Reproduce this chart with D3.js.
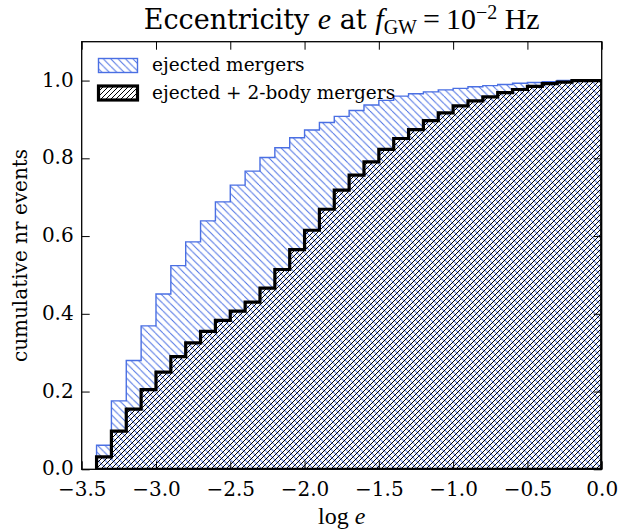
<!DOCTYPE html>
<html><head><meta charset="utf-8">
<script src="https://cdn.jsdelivr.net/npm/d3@7"></script>
<style>
html,body{margin:0;padding:0;background:#fff;}
svg{display:block;}
text{font-family:"DejaVu Serif",serif;fill:#000;}
</style></head>
<body>
<svg id="chart" width="621" height="529"></svg>
<script>
// ---- data ----
const binEdges = [-3.4,-3.3,-3.2,-3.1,-3.0,-2.9,-2.8,-2.7,-2.6,-2.5,-2.4,-2.3,-2.2,-2.1,-2.0,-1.9,-1.8,-1.7,-1.6,-1.5,-1.4,-1.3,-1.2,-1.1,-1.0,-0.9,-0.8,-0.7,-0.6,-0.5,-0.4,-0.3,-0.2,-0.1,0.0];
const ejected = [0.062,0.176,0.280,0.369,0.451,0.524,0.585,0.639,0.688,0.731,0.767,0.802,0.827,0.853,0.873,0.892,0.908,0.923,0.937,0.949,0.960,0.966,0.971,0.976,0.980,0.984,0.987,0.990,0.993,0.995,0.997,1.0,1.0,1.0];
const ejectedPlus2body = [0.032,0.098,0.155,0.205,0.250,0.290,0.325,0.355,0.383,0.407,0.430,0.466,0.514,0.565,0.615,0.669,0.718,0.757,0.791,0.823,0.851,0.874,0.897,0.917,0.935,0.948,0.958,0.969,0.977,0.985,0.992,0.996,1.0,1.0];
const xTicks = [-3.5,-3.0,-2.5,-2.0,-1.5,-1.0,-0.5,0.0];
const yTicks = [0.0,0.2,0.4,0.6,0.8,1.0];
const legendLabels = ["ejected mergers","ejected + 2-body mergers"];

// ---- layout ----
const L = 81.7, R = 601.7, T = 41.7, B = 469.3;
const x = d3.scaleLinear().domain([-3.5, 0.0]).range([L, R]);
const y = d3.scaleLinear().domain([0, 1.1]).range([B, T]);
const blue = "#4a6fe3";

const svg = d3.select("#chart");
const defs = svg.append("defs");

function hatch(id, period, dir, color, sw) {
  const p = defs.append("pattern").attr("id", id)
    .attr("patternUnits", "userSpaceOnUse").attr("width", period).attr("height", period);
  const segs = dir === "/" ?
    [[0, period, period, 0], [-period, period, 0, 0], [period, period * 2, period * 2, period]] :
    [[0, 0, period, period], [-period, 0, 0, period], [period, 0, period * 2, period]];
  segs.forEach(s => p.append("line").attr("x1", s[0]).attr("y1", s[1]).attr("x2", s[2]).attr("y2", s[3])
    .attr("stroke", color).attr("stroke-width", sw));
}
hatch("hBlue", 7.4, "\\", blue, 1.0);
hatch("hBlack", 5.0, "/", "#000", 1.0);

defs.append("clipPath").attr("id", "plotClip").append("rect")
  .attr("x", L).attr("y", T).attr("width", R - L).attr("height", B - T);

function stepPoints(vals) {
  const pts = [[binEdges[0], 0]];
  vals.forEach((v, i) => { pts.push([binEdges[i], v]); pts.push([binEdges[i + 1], v]); });
  pts.push([binEdges[binEdges.length - 1], 0]);
  return pts;
}
const line = d3.line().x(d => x(d[0])).y(d => y(d[1]));

const plot = svg.append("g").attr("clip-path", "url(#plotClip)");
plot.append("path").attr("d", line(stepPoints(ejected)) + "Z")
  .attr("fill", "url(#hBlue)").attr("stroke", blue).attr("stroke-width", 1.4).attr("stroke-linejoin", "miter");
plot.append("path").attr("d", line(stepPoints(ejectedPlus2body)) + "Z")
  .attr("fill", "url(#hBlack)").attr("stroke", "#000").attr("stroke-width", 3.2).attr("stroke-linejoin", "miter");

// ---- axes ----
const tickLen = 8;
const gx = svg.append("g").attr("transform", `translate(0,${B})`)
  .call(d3.axisBottom(x).tickValues(xTicks).tickSize(-tickLen).tickPadding(12)
    .tickFormat(d => d3.format(".1f")(d).replace("-", "\u2212")));
const gxt = svg.append("g").attr("transform", `translate(0,${T})`)
  .call(d3.axisTop(x).tickValues(xTicks).tickSize(-tickLen).tickFormat(""));
const gy = svg.append("g").attr("transform", `translate(${L},0)`)
  .call(d3.axisLeft(y).tickValues(yTicks).tickSize(-tickLen).tickPadding(8).tickFormat(d3.format(".1f")));
const gyr = svg.append("g").attr("transform", `translate(${R},0)`)
  .call(d3.axisRight(y).tickValues(yTicks).tickSize(-tickLen).tickFormat(""));
[gx, gxt, gy, gyr].forEach(g => {
  g.select(".domain").remove();
  g.selectAll(".tick line").attr("stroke", "#000").attr("stroke-width", 1);
  g.selectAll("text").attr("font-family", "DejaVu Serif").attr("font-size", 20).attr("fill", "#000");
});
gx.selectAll("text").attr("dy", "0.72em");
gy.selectAll("text").attr("dy", "0.28em");
svg.append("rect").attr("x", L).attr("y", T).attr("width", R - L).attr("height", B - T)
  .attr("fill", "none").attr("stroke", "#000").attr("stroke-width", 1.3);

// ---- labels ----
const title = svg.append("text").attr("x", (L + R) / 2).attr("y", 29).attr("text-anchor", "middle")
  .attr("font-size", 27);
title.append("tspan").text("Eccentricity ");
title.append("tspan").attr("font-family", "Liberation Serif").attr("font-style", "italic").attr("font-size", 30).text("e");
title.append("tspan").text(" at ");
title.append("tspan").attr("font-family", "Liberation Serif").attr("font-style", "italic").attr("font-size", 30).text("f");
title.append("tspan").attr("font-family", "Liberation Serif").attr("font-size", 20).attr("dy", 5).text("GW");
title.append("tspan").attr("font-family", "Liberation Serif").attr("font-size", 30).attr("dy", -5).text("\u2009=\u200910");
title.append("tspan").attr("font-family", "Liberation Serif").attr("font-size", 20).attr("dy", -10).text("\u22122");
title.append("tspan").attr("font-family", "Liberation Serif").attr("font-size", 30).attr("dy", 10).text(" Hz");

const xl = svg.append("text").attr("x", (L + R) / 2).attr("y", 524).attr("text-anchor", "middle").attr("font-size", 24);
xl.append("tspan").attr("font-family", "Liberation Serif").text("log ");
xl.append("tspan").attr("font-family", "Liberation Serif").attr("font-style", "italic").text("e");

svg.append("text").attr("transform", `translate(27,${(T + B) / 2}) rotate(-90)`)
  .attr("text-anchor", "middle").attr("font-size", 20).text("cumulative nr events");

// ---- legend ----
const lg = svg.append("g");
const legendStyles = [
  {fill: "url(#hBlue)", stroke: blue, sw: 1.4},
  {fill: "url(#hBlack)", stroke: "#000", sw: 3.2}
];
legendLabels.forEach((lab, i) => {
  const yy = 58.5 + i * 27.5;
  lg.append("rect").attr("x", 98.5).attr("y", yy).attr("width", 39).attr("height", 14)
    .attr("fill", legendStyles[i].fill).attr("stroke", legendStyles[i].stroke).attr("stroke-width", legendStyles[i].sw);
  lg.append("text").attr("x", 152).attr("y", yy + 12.5).attr("font-size", 18.5).text(lab);
});
</script>
</body></html>
